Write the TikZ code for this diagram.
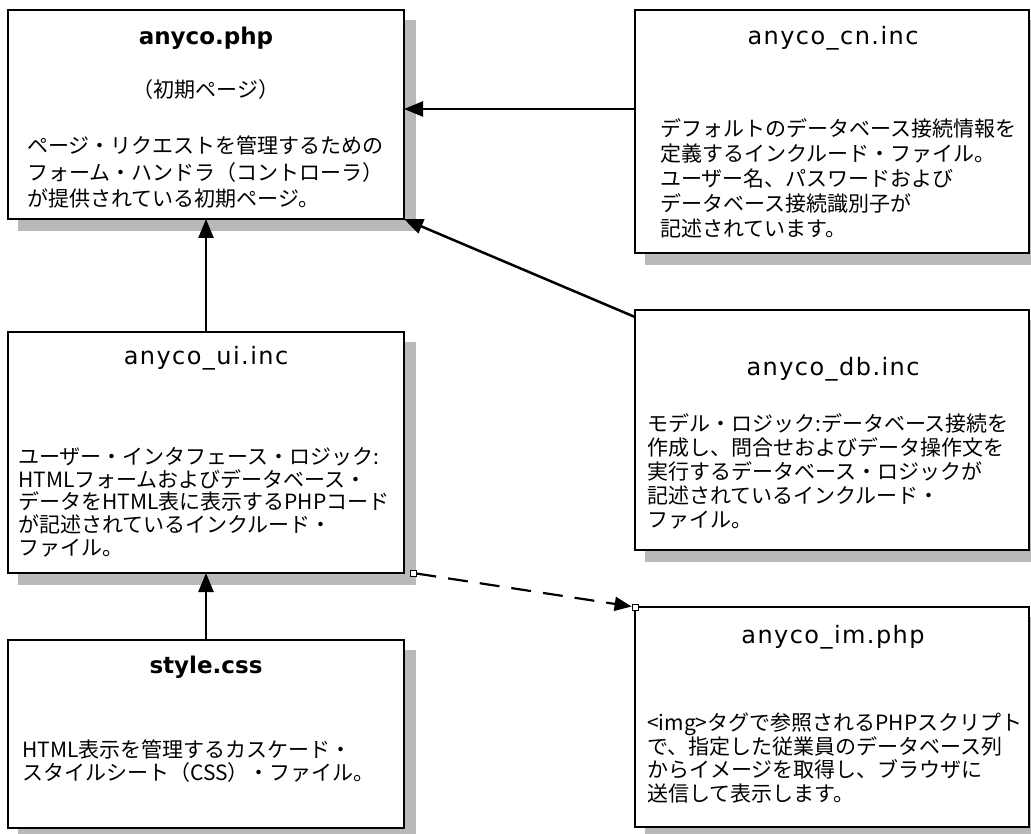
\documentclass[tikz,border=0pt]{standalone}
\usepackage{fontspec}
\newfontfamily\jp{Noto Sans CJK JP}
\newfontfamily\ttl[LetterSpace=6]{DejaVu Sans}
\newfontfamily\bttl{DejaVu Sans Bold}
\usetikzlibrary{arrows.meta,backgrounds}
\begin{document}
\begin{tikzpicture}[x=1pt,y=-1pt,
  box/.style={draw, line width=2.5pt, fill=white, anchor=north west, inner sep=0pt, outer sep=0pt},
  shade/.style={fill=gray!55},
  title/.style={font=\ttl\fontsize{24}{28}\selectfont, anchor=base, inner sep=0pt},
  btitle/.style={title, font=\bttl\fontsize{23}{28}\selectfont},
  body/.style={align=left, anchor=north west, inner sep=0pt},
  conn/.style={line width=2.5pt, -{Triangle[length=19pt,width=15pt]}},
  dashline/.style={line width=2.2pt, dash pattern=on 20pt off 12pt, -{Triangle[length=17pt,width=14pt]}},
  sqbox/.style={draw, fill=white, line width=0.8pt, minimum size=6pt, inner sep=0pt}
]
\useasboundingbox (0,0) rectangle (1031,834);
% boxes
\node[box, minimum width=396pt, minimum height=209pt] (php) at (8,10) {};
\node[box, minimum width=394pt, minimum height=243pt] (cn) at (635,10) {};
\node[box, minimum width=396pt, minimum height=241pt] (ui) at (8,332) {};
\node[box, minimum width=394pt, minimum height=240pt] (db) at (635,310) {};
\node[box, minimum width=396pt, minimum height=188pt] (css) at (8,640) {};
\node[box, minimum width=394pt, minimum height=220pt] (im) at (635,607) {};
% shadows
\begin{scope}[on background layer]
  \fill[white] (0,0) rectangle (1031,834);
  \foreach \b in {php,cn,ui,db,css,im}
    \fill[shade] ([shift={(10pt,-10pt)}]\b.north west) rectangle ([shift={(12pt,-12pt)}]\b.south east);
\end{scope}
% texts
\node[btitle] (tphp) at (206,45) {anyco.php};
\node[font=\jp\fontsize{21}{26}\selectfont] (sphp) at (206,90) {（初期ページ）};
\node[body, font=\jp\fontsize{21}{26.5}\selectfont] (bphp) at (27,136)
  {ページ・リクエストを管理するための\\フォーム・ハンドラ（コントローラ）\\が提供されている初期ページ。};

\node[title] (tcn) at (833,45) {anyco\_cn.inc};
\node[body, font=\jp\fontsize{21}{25}\selectfont] (bcn) at (660,118)
  {デフォルトのデータベース接続情報を\\定義するインクルード・ファイル。\\ユーザー名、パスワードおよび\\データベース接続識別子が\\記述されています。};

\node[title] (tui) at (206,365) {anyco\_ui.inc};
\node[body, font=\jp\fontsize{21}{22.8}\selectfont] (bui) at (18,447)
  {ユーザー・インタフェース・ロジック:\\HTMLフォームおよびデータベース・\\データをHTML表に表示するPHPコード\\が記述されているインクルード・\\ファイル。};

\node[title] (tdb) at (833,375) {anyco\_db.inc};
\node[body, font=\jp\fontsize{21}{24.2}\selectfont] (bdb) at (647,413)
  {モデル・ロジック:データベース接続を\\作成し、問合せおよびデータ操作文を\\実行するデータベース・ロジックが\\記述されているインクルード・\\ファイル。};

\node[btitle] (tcss) at (206,673) {style.css};
\node[body, font=\jp\fontsize{21}{23}\selectfont] (bcss) at (22,740)
  {HTML表示を管理するカスケード・\\スタイルシート（CSS）・ファイル。};

\node[title] (tim) at (833,643) {anyco\_im.php};
\node[body, font=\jp\fontsize{21}{23.4}\selectfont] (bim) at (647,713)
  {<img>タグで参照されるPHPスクリプト\\で、指定した従業員のデータベース列\\からイメージを取得し、ブラウザに\\送信して表示します。};

% connectors
\coordinate (hy) at (0,109);
\draw[conn] (cn.west |- hy) -- (php.east |- hy);
\draw[conn] ([yshift=-7pt]db.north west) -- (php.south east);
\draw[conn] (ui.north) -- (php.south);
\draw[conn] (css.north) -- (ui.south);
\node[sqbox] (sqa) at ([xshift=9pt]ui.south east) {};
\node[sqbox] (sqb) at (im.north west) {};
\draw[dashline] (sqa) -- (sqb);
\end{tikzpicture}
\end{document}
